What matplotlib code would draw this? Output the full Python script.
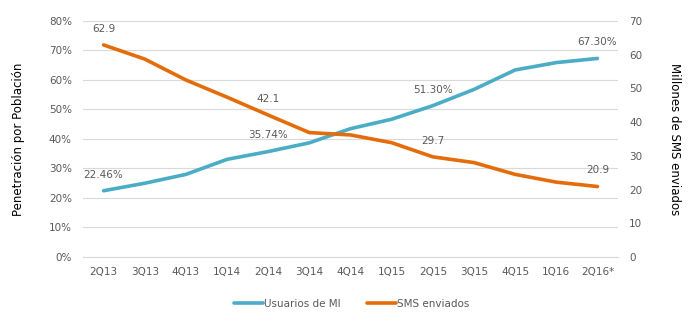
import numpy as np
from matplotlib import pyplot as plt
from matplotlib.ticker import FuncFormatter

quarters = ['2Q13', '3Q13', '4Q13', '1Q14', '2Q14', '3Q14', '4Q14',
            '1Q15', '2Q15', '3Q15', '4Q15', '1Q16', '2Q16*']
usuarios_mi = [22.46, 25.0, 28.0, 33.1, 35.74, 38.7, 43.5,
               46.7, 51.30, 56.8, 63.4, 65.9, 67.30]
sms_enviados = [62.9, 58.7, 52.5, 47.4, 42.1, 36.9, 36.2,
                33.9, 29.7, 28.0, 24.5, 22.2, 20.9]

# puntos con etiqueta de valor
lbl_mi = [0, 4, 8, 12]
lbl_sms = [0, 4, 8, 12]

blue = '#4BACC6'
orange = '#E46C0A'
txt = '#595959'

plt.rcParams['font.family'] = ['DejaVu Sans']
plt.rcParams['font.size'] = 8

fig = plt.figure(figsize=(6.89, 3.22), dpi=100)
ax = fig.add_axes([0.1205, 0.2019, 0.7765, 0.7329])
ax2 = ax.twinx()

x = np.arange(len(quarters))
l1, = ax.plot(x, usuarios_mi, color=blue, lw=2.6, solid_capstyle='round',
              label='Usuarios de MI', zorder=3)
l2, = ax2.plot(x, sms_enviados, color=orange, lw=2.6, solid_capstyle='round',
               label='SMS enviados', zorder=3)

for i in lbl_mi:
    ax.annotate('%.2f%%' % usuarios_mi[i], (x[i], usuarios_mi[i]),
                xytext=(0, 8), textcoords='offset points',
                ha='center', va='bottom', color=txt, fontsize=7.5)
for i in lbl_sms:
    ax2.annotate('%.1f' % sms_enviados[i], (x[i], sms_enviados[i]),
                 xytext=(0, 8), textcoords='offset points',
                 ha='center', va='bottom', color=txt, fontsize=7.5)

ax.set_xlim(-0.5, len(quarters) - 0.5)
ax.set_ylim(0, 80)
ax2.set_ylim(0, 70)
ax.set_yticks(range(0, 81, 10))
ax2.set_yticks(range(0, 71, 10))
ax.yaxis.set_major_formatter(FuncFormatter(lambda v, p: '%d%%' % v))
ax.set_xticks(x)
ax.set_xticklabels(quarters)

ax.grid(axis='y', color='#D9D9D9', lw=0.8)
ax.set_axisbelow(True)
for a in (ax, ax2):
    for s in a.spines.values():
        s.set_visible(False)
    a.tick_params(length=0, colors=txt, labelsize=7.5)
ax.spines['bottom'].set_visible(True)
ax.spines['bottom'].set_color('#D9D9D9')
ax.tick_params(axis='x', pad=7)
ax.tick_params(axis='y', pad=8)
ax2.tick_params(axis='y', pad=8)

ax.set_ylabel('Penetración por Población', fontsize=8.5, color='black', labelpad=17)
ax2.set_ylabel('Millones de SMS enviados', fontsize=8.5, color='black',
               rotation=270, labelpad=28)

fig.legend(handles=[l1, l2], loc='center', bbox_to_anchor=(0.51, 0.056),
           ncol=2, frameon=False, fontsize=7.5, handlelength=2.8,
           handletextpad=0.1, columnspacing=2.5, labelcolor=txt)

fig.savefig('out.png', dpi=100)
